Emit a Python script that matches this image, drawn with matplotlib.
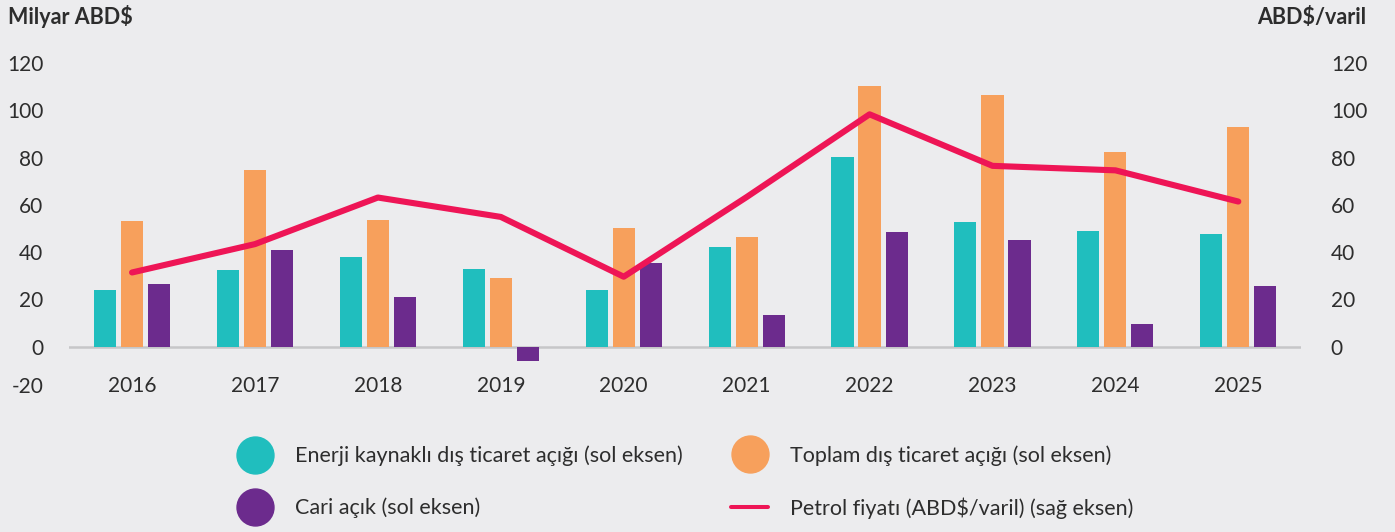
import matplotlib.pyplot as plt
from matplotlib.lines import Line2D
from matplotlib.transforms import ScaledTranslation
import numpy as np

years = ["2016", "2017", "2018", "2019", "2020", "2021", "2022", "2023", "2024", "2025"]
energy_deficit = [24.1, 32.5, 38.0, 33.0, 24.1, 42.3, 80.3, 52.8, 49.0, 47.7]
total_deficit = [53.2, 74.8, 53.7, 29.2, 50.3, 46.5, 110.3, 106.5, 82.4, 93.1]
current_deficit = [26.6, 41.0, 21.1, -5.9, 35.5, 13.5, 48.6, 45.2, 9.7, 25.5]
oil_price = [31.4, 43.4, 63.1, 54.9, 29.6, 63.3, 98.3, 76.5, 74.6, 61.4]

left_ticks = [-20, 0, 20, 40, 60, 80, 100, 120]
right_ticks = [0, 20, 40, 60, 80, 100, 120]

TEAL = "#20bebe"
ORANGE = "#f7a05c"
PURPLE = "#6c2b8d"
PINK = "#ee1556"
BG = "#ececee"
TXT = "#2d2d2d"

plt.rcParams["font.family"] = ["Lato", "DejaVu Sans"]
plt.rcParams["axes.unicode_minus"] = False

fig = plt.figure(figsize=(13.95, 5.32), dpi=100, facecolor=BG)
ax = fig.add_axes([69 / 1395, 1 - 394 / 532, (1301 - 69) / 1395, 331 / 532])
ax.set_facecolor(BG)

x = np.arange(len(years))
w = 0.18
ax.bar(x - 0.22, energy_deficit, w, color=TEAL, zorder=2)
ax.bar(x, total_deficit, w, color=ORANGE, zorder=2)
ax.bar(x + 0.22, current_deficit, w, color=PURPLE, zorder=2)
ax.axhline(0, color="#c6c6c8", lw=1.8, zorder=1)

ax.set_xlim(-0.513, 9.51)
ax.set_ylim(-20, 120)
ax.set_yticks(left_ticks)
ax.set_xticks(x)
ax.set_xticklabels(years)
for s in ax.spines.values():
    s.set_visible(False)
ax.tick_params(axis="y", length=0, pad=18.5, labelsize=15, labelcolor=TXT)
ax.tick_params(axis="x", length=0, pad=-13, labelsize=15, labelcolor=TXT)

# lift the -20 label to line up with the year labels
tick0 = ax.yaxis.get_major_ticks()[0]
tick0.label1.set_transform(tick0.label1.get_transform()
                           + ScaledTranslation(0, 9 / 100, fig.dpi_scale_trans))

ax2 = ax.twinx()
ax2.plot(x, oil_price, color=PINK, lw=4.4, solid_capstyle="round",
         solid_joinstyle="round", zorder=3)
ax2.set_ylim(-20, 120)
ax2.set_yticks(right_ticks)
for s in ax2.spines.values():
    s.set_visible(False)
ax2.tick_params(axis="y", length=0, pad=21.5, labelsize=15, labelcolor=TXT)

fig.text(8 / 1395, 1 - 17 / 532, "Milyar ABD$", fontsize=15.5, fontweight="bold",
         color=TXT, ha="left", va="center")
fig.text(1366 / 1395, 1 - 17 / 532, "ABD$/varil", fontsize=15.5, fontweight="bold",
         color=TXT, ha="right", va="center")


def circle(c):
    return Line2D([], [], marker="o", ls="none", markersize=26.6, color=c)


leg_kw = dict(loc="center left", frameon=False, fontsize=15.5, borderpad=0,
              borderaxespad=0, handlelength=1.72, handletextpad=1.0,
              labelspacing=1.45, labelcolor=TXT)
fig.legend([circle(TEAL), circle(PURPLE)],
           ["Enerji kaynaklı dış ticaret açığı (sol eksen)", "Cari açık (sol eksen)"],
           bbox_to_anchor=(236 / 1395, 1 - 482 / 532), **leg_kw)
fig.legend([circle(ORANGE), Line2D([], [], color=PINK, lw=2.9, solid_capstyle="round")],
           ["Toplam dış ticaret açığı (sol eksen)", "Petrol fiyatı (ABD$/varil) (sağ eksen)"],
           bbox_to_anchor=(731 / 1395, 1 - 482 / 532), **leg_kw)

fig.savefig("out.png", dpi=100, facecolor=BG)
